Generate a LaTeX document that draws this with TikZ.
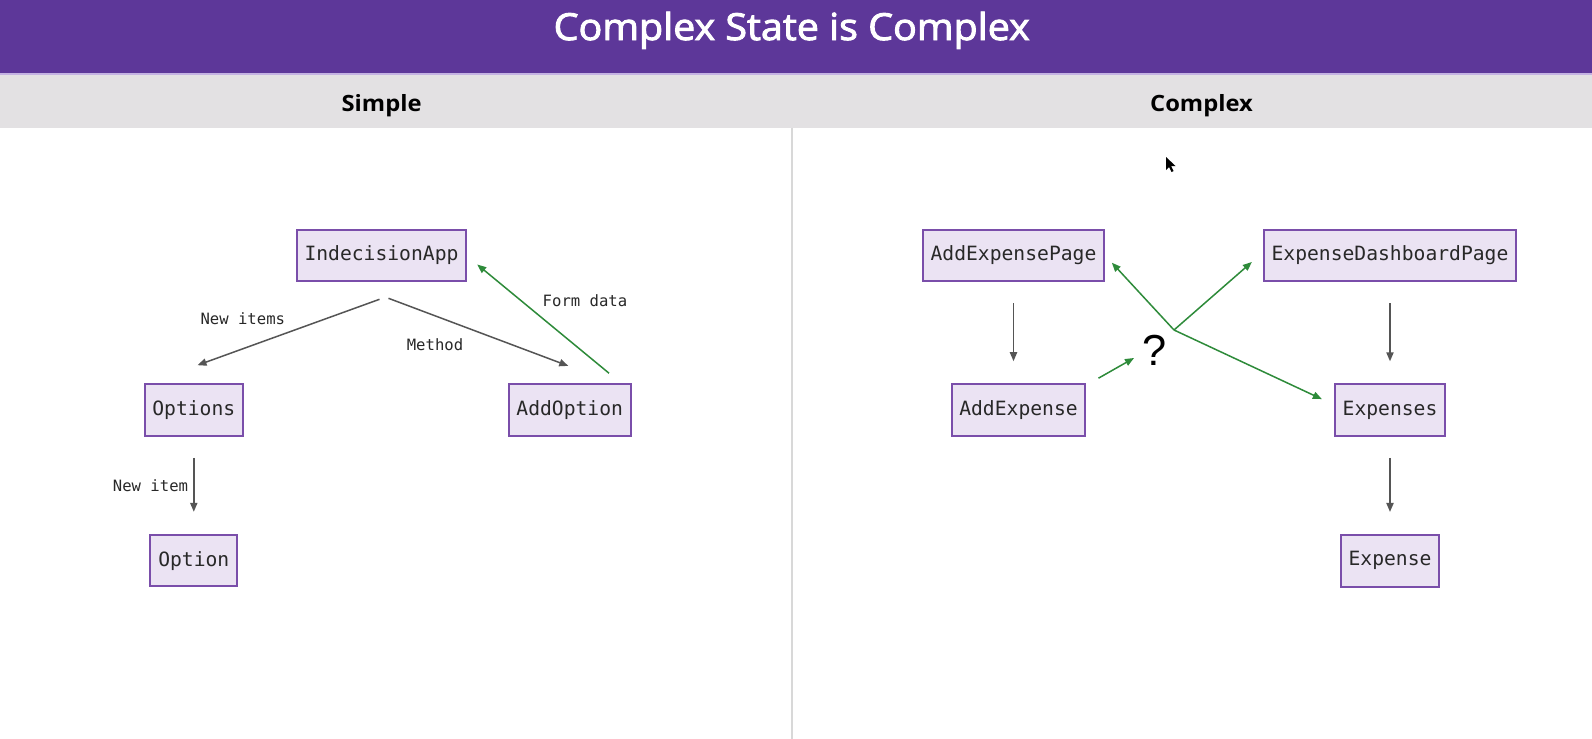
\documentclass[tikz,border=0pt]{standalone}
\usepackage{fontspec}
\setmainfont{Lato}
\newfontfamily\ttlfnt{Open Sans}[FakeBold=2.5,FakeStretch=1.06]
\newfontfamily\colfnt{Open Sans}[FakeStretch=1.06]
\newfontfamily\monofnt{DejaVu Sans Mono}
\newfontfamily\qfnt{Liberation Sans}
\usetikzlibrary{arrows.meta,positioning}

\definecolor{hdrpurple}{RGB}{93,55,153}
\definecolor{hdrline}{RGB}{196,178,226}
\definecolor{bandgrey}{RGB}{227,225,227}
\definecolor{divgrey}{RGB}{216,216,216}
\definecolor{boxfill}{RGB}{235,227,243}
\definecolor{boxline}{RGB}{122,78,170}
\definecolor{arrgrey}{RGB}{85,85,85}
\definecolor{arrgreen}{RGB}{46,139,58}
\definecolor{txtdark}{RGB}{40,40,40}

\tikzset{
comp/.style={draw=boxline,fill=boxfill,line width=1pt,text=txtdark,font=\monofnt\fontsize{9.83}{11}\selectfont,minimum height=25.8pt,inner xsep=3.9pt,inner ysep=0pt},
lbl/.style={text=txtdark,font=\monofnt\fontsize{7.8}{9}\selectfont,inner sep=0pt},
flow/.style={draw=arrgrey,line width=0.75pt,-{Triangle[length=4.5pt,width=3.6pt]}},
back/.style={flow,draw=arrgreen},
colhead/.style={anchor=base,text=black,font=\colfnt\bfseries\fontsize{11.2}{13}\selectfont}
}

\begin{document}
\begin{tikzpicture}[x=0.5pt,y=-0.5pt]
\useasboundingbox (0,0) rectangle (1592,739);
\fill[white] (0,0) rectangle (1592,739);
\fill[hdrpurple] (0,0) rectangle (1592,72.7);
\fill[hdrline] (0,72.7) rectangle (1592,75);
\fill[bandgrey] (0,75) rectangle (1592,127.7);
\draw[divgrey,line width=1pt] (791.7,127.7) -- (791.7,739);

\node[anchor=base,text=white,font=\ttlfnt\fontsize{18.6}{20}\selectfont] (title) at (791.7,40) {Complex State is Complex};
\node[colhead] (hSimple) at (381.6,111) {Simple};
\node[colhead] (hComplex) at (1201.5,111) {Complex};

% simple side
\node[comp] (app) at (381.5,255.5) {IndecisionApp};
\node[comp] (opts) at (193.8,410) {Options};
\node[comp] (addopt) at (569.7,410) {AddOption};
\node[comp,below=48.5pt of opts] (opt) {Option};

\node[lbl] (lItems) at (242.8,319) {New items};
\node[lbl] (lMethod) at (435,344.3) {Method};
\node[lbl] (lForm) at (585,300.7) {Form data};
\node[lbl] (lItem) at (150.5,485.7) {New item};

\draw[flow] ([shift={(-2,17)}]app.south) -- ([shift={(3.7,-18)}]opts.north);
\draw[flow] ([shift={(7,16)}]app.south) -- ([shift={(-1.4,-17.3)}]addopt.north);
\draw[back] ([shift={(39.3,-10)}]addopt.north) -- ([shift={(10,9)}]app.east);

% complex side
\node[comp] (aep) at (1013.5,255.5) {AddExpensePage};
\node[comp] (edp) at (1390,255.5) {ExpenseDashboardPage};
\node[comp] (ae) at (1018.5,410) {AddExpense};
\node[comp,below=50.5pt of edp] (exps) {Expenses};
\node[comp,below=48.5pt of exps] (exp) {Expense};

\foreach \a/\b in {opts/opt,aep/ae,edp/exps,exps/exp}{
\draw[flow,shorten <=10.5pt,shorten >=11pt] (\a.south) -- (\a.south |- \b.north);
}

\coordinate (fork) at (1174,330);
\node[text=black,font=\qfnt\fontsize{21.7}{24}\selectfont,inner sep=0pt] (qm) at (1155,350) {?};
\draw[back] ([shift={(12,-5)}]ae.north east) -- ([shift={(-21,8)}]qm.center);
\draw[back] (fork) -- ([shift={(6.7,7.2)}]aep.east);
\draw[back] (fork) -- ([shift={(-11,6.5)}]edp.west);
\draw[back] (fork) -- ([shift={(-12,-11)}]exps.west);

% cursor
\fill[black] (1166,157) -- ++(0,13) -- ++(3,-3) -- ++(2.5,5) -- ++(2,-1) -- ++(-2.5,-5) -- ++(4.5,0) -- cycle;
\end{tikzpicture}
\end{document}
